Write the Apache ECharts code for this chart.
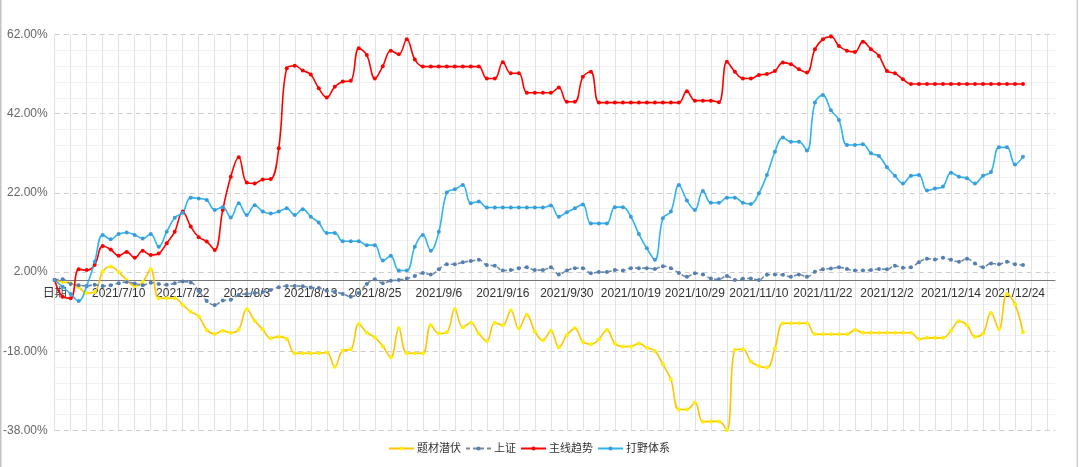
<!DOCTYPE html>
<html>
<head>
<meta charset="utf-8">
<script src="https://cdn.jsdelivr.net/npm/echarts@6/dist/echarts.min.js"></script>
<style>
html,body{margin:0;padding:0;background:#fff;}
#chart{width:1080px;height:467px;}
</style>
</head>
<body>
<div id="chart"></div>
<script>
const categories = ['日期',
'2021/7/1','2021/7/2','2021/7/5','2021/7/6','2021/7/7','2021/7/8','2021/7/9','2021/7/10',
'2021/7/12','2021/7/13','2021/7/14','2021/7/15','2021/7/16','2021/7/19','2021/7/20','2021/7/22',
'2021/7/23','2021/7/26','2021/7/27','2021/7/28','2021/7/29','2021/7/30','2021/8/2','2021/8/3',
'2021/8/4','2021/8/5','2021/8/6','2021/8/9','2021/8/10','2021/8/11','2021/8/12','2021/8/13',
'2021/8/16','2021/8/17','2021/8/18','2021/8/19','2021/8/20','2021/8/23','2021/8/24','2021/8/25',
'2021/8/26','2021/8/27','2021/8/30','2021/8/31','2021/9/1','2021/9/2','2021/9/3','2021/9/6',
'2021/9/7','2021/9/8','2021/9/9','2021/9/10','2021/9/13','2021/9/14','2021/9/15','2021/9/16',
'2021/9/17','2021/9/22','2021/9/23','2021/9/24','2021/9/27','2021/9/28','2021/9/29','2021/9/30',
'2021/10/8','2021/10/11','2021/10/12','2021/10/13','2021/10/14','2021/10/15','2021/10/18','2021/10/19',
'2021/10/20','2021/10/21','2021/10/22','2021/10/25','2021/10/26','2021/10/27','2021/10/28','2021/10/29',
'2021/11/1','2021/11/2','2021/11/3','2021/11/4','2021/11/5','2021/11/8','2021/11/9','2021/11/10',
'2021/11/11','2021/11/12','2021/11/15','2021/11/16','2021/11/17','2021/11/18','2021/11/19','2021/11/22',
'2021/11/23','2021/11/24','2021/11/25','2021/11/26','2021/11/29','2021/11/30','2021/12/1','2021/12/2',
'2021/12/3','2021/12/6','2021/12/7','2021/12/8','2021/12/9','2021/12/10','2021/12/13','2021/12/14',
'2021/12/15','2021/12/16','2021/12/17','2021/12/20','2021/12/21','2021/12/22','2021/12/23','2021/12/24',
'2021/12/27','2021/12/28','2021/12/29','2021/12/30','2021/12/31'];

const seriesNames = ['题材潜伏','上证','主线趋势','打野体系'];

const ticaiQianfu = [0,-0.5,-0.8,-1.8,-3.3,-3.0,2.1,3.4,2.0,0.0,
-1.5,-0.5,2.7,-4.6,-4.6,-4.6,-6.3,-8.0,-9.2,-12.6,
-13.6,-12.8,-13.3,-12.5,-7.4,-10.3,-12.5,-14.7,-14.3,-14.9,
-18.5,-18.5,-18.5,-18.5,-18.3,-21.9,-17.8,-17.5,-11.1,-13.3,
-14.5,-16.7,-19.5,-12.2,-18.5,-18.5,-18.5,-11.4,-13.5,-13.2,
-7.4,-11.9,-10.8,-13.5,-15.4,-10.8,-11.4,-7.7,-12.2,-8.8,
-13.0,-15.2,-12.8,-17.0,-13.9,-12.2,-15.6,-16.2,-15.0,-12.6,
-16.0,-16.8,-16.8,-16.0,-17.1,-17.9,-21.3,-25.1,-32.7,-32.7,
-31.0,-35.8,-35.7,-35.7,-37.9,-17.7,-17.5,-20.6,-21.7,-22.1,
-17.3,-10.9,-10.9,-10.9,-10.9,-13.7,-13.7,-13.7,-13.7,-13.7,
-12.6,-13.3,-13.3,-13.3,-13.3,-13.3,-13.3,-13.3,-14.9,-14.6,
-14.6,-14.6,-12.8,-10.4,-11.4,-14.3,-13.5,-8.3,-12.4,-3.5,
-6.1,-13.2];

const shangzheng = [0,0.2,-1.0,-1.3,-1.5,-1.2,-1.5,-1.3,-0.8,-0.5,
-0.9,-1.3,-0.7,-1.0,-1.2,-0.8,-0.4,-0.6,-2.8,-5.3,
-6.3,-5.2,-5.0,-3.8,-3.5,-3.3,-3.0,-2.5,-1.8,-1.5,
-1.5,-1.6,-1.9,-2.0,-2.7,-3.0,-3.5,-4.2,-3.3,-1.0,
0.2,-0.8,-0.2,0.0,0.4,1.0,1.8,1.4,2.7,4.0,
4.0,4.5,4.8,5.1,3.8,3.6,2.4,2.5,3.0,3.2,
2.5,2.5,3.2,1.4,2.4,3.0,3.0,1.7,2.0,2.0,
2.5,2.4,3.0,3.0,3.0,2.8,3.5,3.0,1.8,0.8,
1.7,1.4,0.4,0.2,1.0,0.0,0.3,0.4,0.0,1.3,
1.4,1.3,0.8,1.4,0.8,2.1,2.7,2.9,3.2,2.8,
2.4,2.4,2.5,2.8,2.7,3.6,3.1,3.2,4.5,5.4,
5.2,5.6,5.1,4.6,5.4,4.2,3.2,4.2,4.0,4.6,
4.0,3.8];

const zhuxianQushi = [0,-4.2,-4.6,2.7,2.5,3.8,8.6,7.7,6.1,7.1,
5.6,7.4,6.3,6.7,9.3,12.2,17.3,13.5,10.8,9.7,
7.6,17.7,26.1,31.0,24.6,24.4,25.4,25.5,33.3,53.5,
54.1,52.9,51.9,48.4,46.1,48.8,50.1,50.3,58.5,56.8,
50.9,54.0,57.9,57.0,60.8,55.7,53.9,53.9,53.9,53.9,
53.9,53.9,53.9,53.9,50.9,50.9,55.0,52.2,52.2,47.3,
47.3,47.3,47.3,48.6,45.0,45.0,51.3,52.6,44.8,44.8,
44.8,44.8,44.8,44.8,44.8,44.8,44.8,44.8,44.8,47.7,
45.3,45.3,45.3,44.9,55.1,52.6,50.9,50.9,51.8,52.0,
52.8,54.9,54.5,53.2,52.4,58.3,60.8,61.5,59.1,57.9,
57.6,60.2,58.3,56.6,52.8,52.2,50.7,49.5,49.5,49.5,
49.5,49.5,49.5,49.5,49.5,49.5,49.5,49.5,49.5,49.5,
49.5,49.5];

const daye = [0,-1.7,-3.5,-5.3,-1.5,4.6,11.4,10.3,11.6,12.0,
11.4,10.5,11.6,8.4,12.2,15.7,17.0,20.8,20.6,20.2,
17.7,18.4,15.8,19.4,16.4,18.9,17.3,16.8,17.3,18.1,
16.4,17.9,16.0,14.5,11.9,11.9,9.8,9.8,9.8,8.8,
8.8,4.9,6.1,2.4,2.4,8.4,11.4,7.4,12.2,22.1,
22.9,24.0,19.4,19.8,18.3,18.3,18.3,18.3,18.3,18.3,
18.3,18.3,18.8,16.0,17.1,18.1,19.1,14.3,14.3,14.3,
18.4,18.4,16.0,11.6,8.0,5.1,15.6,17.3,24.0,20.1,
17.7,22.5,19.5,19.5,20.8,20.8,19.5,19.2,21.9,26.5,
32.4,36.0,34.9,34.9,32.7,44.8,46.7,42.9,40.4,34.1,
34.1,34.3,32.0,31.3,28.5,26.3,24.4,26.3,26.5,22.6,
23.1,23.6,27.1,26.1,25.7,24.4,26.3,27.3,33.5,33.5,
29.2,31.1];

const yTicks = {min: -38, max: 62, interval: 20};

const chart = echarts.init(document.getElementById('chart'), null, {renderer: 'canvas'});
const FONT = 'Liberation Sans, Arial, Noto Sans CJK SC, sans-serif';

function mk(name, data, lineColor, dotColor, dashed) {
  return {
    name: name, type: 'line', data: data,
    smooth: 0.4, symbol: 'circle', symbolSize: 4, showSymbol: true,
    lineStyle: {color: lineColor, width: 1.6, type: dashed ? [4, 3] : 'solid'},
    itemStyle: {color: dotColor, borderWidth: 0},
    emphasis: {disabled: true}
  };
}

const gridTop = 34.5, gridBottom = 36.5, chartH = 467;
const plotH = chartH - gridTop - gridBottom;
const zeroY = gridTop + plotH * (yTicks.max - 0) / (yTicks.max - yTicks.min);
const labelMargin = 8 - (chartH - gridBottom - zeroY);

chart.setOption({
  animation: false,
  backgroundColor: '#fff',
  textStyle: {fontFamily: FONT},
  graphic: [
    {type: 'rect', left: 0, top: 0, shape: {width: 1.5, height: chartH}, style: {fill: '#c4c4c4'}, silent: true},
    {type: 'rect', right: 2, top: 0, shape: {width: 1.5, height: chartH}, style: {fill: '#d0d0d0'}, silent: true}
  ],
  grid: {left: 51, right: 25, top: gridTop, bottom: gridBottom, containLabel: false},
  legend: {
    data: seriesNames, left: 383, top: 438, itemWidth: 25, itemHeight: 5, itemGap: 4,
    textStyle: {color: '#333', fontSize: 11, fontFamily: FONT, padding: [0, 0, 0, -2]}
  },
  xAxis: {
    type: 'category', data: categories, boundaryGap: false,
    axisLine: {onZero: true, lineStyle: {color: '#777', width: 1}},
    axisTick: {show: false},
    axisLabel: {interval: 7, color: '#333', fontSize: 12, margin: labelMargin, fontFamily: FONT, hideOverlap: false},
    splitLine: {show: true, interval: 1, lineStyle: {color: '#e2e2e2', width: 1}}
  },
  yAxis: {
    type: 'value', min: yTicks.min, max: yTicks.max, interval: yTicks.interval,
    axisLine: {show: false}, axisTick: {show: false},
    axisLabel: {color: '#666', fontSize: 12, margin: 7, fontFamily: FONT,
      formatter: v => v.toFixed(2) + '%'},
    splitLine: {show: true, lineStyle: {color: '#ccc', type: [5, 4], width: 1}},
    minorTick: {show: false, splitNumber: 5},
    minorSplitLine: {show: true, lineStyle: {color: '#f1f1f1', width: 1}}
  },
  series: [
    mk(seriesNames[0], ticaiQianfu, '#FFC400', '#FFF000', false),
    mk(seriesNames[1], shangzheng, '#7A8799', '#4F80B8', true),
    mk(seriesNames[2], zhuxianQushi, '#FF0000', '#FF0000', false),
    mk(seriesNames[3], daye, '#2DB5EE', '#3D9BDD', false)
  ]
});
</script>
</body>
</html>
